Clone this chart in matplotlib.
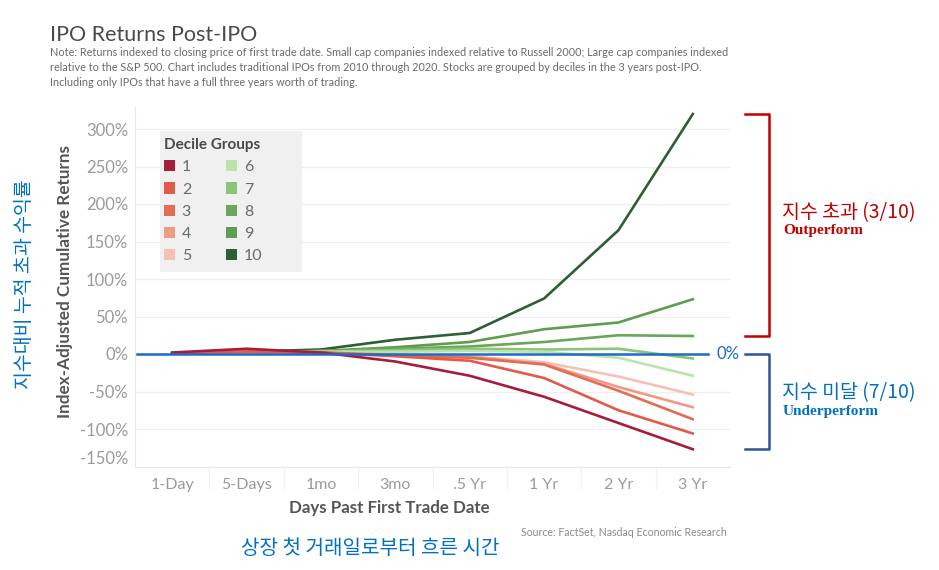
import matplotlib
matplotlib.use("Agg")
import matplotlib.pyplot as plt
from matplotlib.patches import Patch, Rectangle
from matplotlib.transforms import blended_transform_factory

# ---------------- data ----------------
periods = ['1-Day', '5-Days', '1mo', '3mo', '.5 Yr', '1 Yr', '2 Yr', '3 Yr']
decile_labels = ['1', '2', '3', '4', '5', '6', '7', '8', '9', '10']
d1 = [2, 7, 2, -10, -29, -57, -92, -127]
d2 = [1, 3, 2, -3, -9, -32, -75, -106]
d3 = [1, 3, 2, -2, -5, -14, -49, -87]
d4 = [1, 3, 2, -1, -4, -13, -44, -71]
d5 = [1, 2, 2, -1, -3, -11, -30, -54]
d6 = [1, 2, 3, 3, 4, 3, -5, -29]
d7 = [1, 2, 3, 5, 7, 6, 7, -6]
d8 = [1, 2, 4, 7, 10, 16, 25, 24]
d9 = [1, 2, 4, 9, 16, 33, 42, 73]
d10 = [1, 3, 6, 19, 28, 74, 165, 320]
series = [d1, d2, d3, d4, d5, d6, d7, d8, d9, d10]
colors = ['#a51d3a', '#e25a4a', '#e66b55', '#ef9a83', '#f6c1b5',
          '#bde2ac', '#8cc47a', '#6aa65b', '#5e9c52', '#2c5f34']
yticks = [-150, -100, -50, 0, 50, 100, 150, 200, 250, 300]

EN = ['Lato', 'DejaVu Sans']
KR = ['Noto Sans CJK KR', 'DejaVu Sans']

W, H = 939, 570
fig = plt.figure(figsize=(W / 100, H / 100), dpi=100)
ax = fig.add_axes([135 / W, 1 - 466.5 / H, 595 / W, 360 / H])

x = list(range(len(periods)))
for i in reversed(range(len(series))):
    ax.plot(x, series[i], color=colors[i], lw=1.9, solid_joinstyle='round', zorder=3 + (10 - i) * 0.01)

ax.set_xlim(-0.5, len(periods) - 0.5)
ax.set_ylim(-150, 330)
ax.set_yticks(yticks)
ax.set_yticklabels([f'{v}%' for v in yticks], family=EN, fontsize=12, color='#9a9a9a')
ax.set_xticks(x)
ax.set_xticklabels(periods, family=EN, fontsize=11.5, color='#9a9a9a')
ax.tick_params(axis='both', length=0)
ax.tick_params(axis='y', pad=5)
ax.tick_params(axis='x', pad=8)
for lab in ax.get_yticklabels():
    if lab.get_text() == '-150%':
        lab.set_va('bottom')
ax.grid(axis='y', color='#efefef', lw=0.9)
ax.set_axisbelow(True)
for s in ['top', 'right']:
    ax.spines[s].set_visible(False)
ax.spines['left'].set_color('#e8e8e8')
ax.spines['bottom'].set_color('#e8e8e8')

# faint column dividers in the header area
for xi in [i + 0.5 for i in x[:-1]]:
    ax.plot([xi, xi], [0, -0.06], transform=blended_transform_factory(ax.transData, ax.transAxes),
            color='#f0f0f0', lw=0.9, clip_on=False)

# zero line (blue)
bt = blended_transform_factory(fig.transFigure, ax.transData)
ax.plot([137 / W, 708 / W], [0, 0], transform=bt, color='#1c6cc6', lw=1.8, clip_on=False, zorder=10)
fig.text(728 / W, 0, '0%', transform=bt, color='#1c6cc6', fontsize=12, family=EN,
         ha='center', va='center')

finals = [s[-1] for s in series]
top_out = max(finals)
low_out = min(v for v in finals if v > 0)
low_under = min(finals)
# outperform bracket (red)
red = '#c00000'
ax.plot([745 / W, 769 / W, 769 / W, 745 / W], [top_out, top_out, low_out, low_out],
        transform=bt, color=red, lw=1.8, clip_on=False)
# underperform bracket (navy)
navy = '#2f5597'
ax.plot([745 / W, 769 / W, 769 / W, 745 / W], [0, 0, low_under, low_under],
        transform=bt, color=navy, lw=1.8, clip_on=False)

fig.text(782 / W, 1 - 213 / H, '지수 초과 (3/10)', color=red, fontsize=14, family=KR,
         ha='left', va='center')
fig.text(783 / W, 1 - 231 / H, 'Outperform', color=red, fontsize=11, family=['Liberation Serif'],
         fontweight='bold', ha='left', va='center')
fig.text(782 / W, 1 - 393 / H, '지수 미달 (7/10)', color='#0070c0', fontsize=14, family=KR,
         ha='left', va='center')
fig.text(783 / W, 1 - 412 / H, 'Underperform', color='#0070c0', fontsize=11,
         family=['Liberation Serif'], fontweight='bold', ha='left', va='center')

# legend background box
ax.add_patch(Rectangle((160 / W, 1 - 272 / H), 142 / W, 141 / H, transform=fig.transFigure,
                       facecolor='#f0f0f0', edgecolor='none', zorder=15, clip_on=False))
handles = [Patch(facecolor=c, edgecolor='none') for c in colors]
leg = ax.legend(handles, decile_labels, ncol=2, loc='upper left',
                bbox_to_anchor=(157 / W, 1 - 131 / H), bbox_transform=fig.transFigure,
                title='Decile Groups', alignment='left', frameon=False,
                prop={'family': EN, 'size': 11.5}, title_fontproperties={'family': EN, 'size': 11, 'weight': 'bold'},
                handlelength=0.7, handleheight=0.7, handletextpad=0.4, labelspacing=0.5,
                columnspacing=2.2, borderpad=0.45, borderaxespad=0)
leg.get_title().set_color('#4a4a4a')
for t in leg.get_texts():
    t.set_color('#6a6a6a')
leg.set_zorder(20)

# titles and labels
fig.text(50 / W, 1 - 35 / H, 'IPO Returns Post-IPO', fontsize=15.5, family=EN, color='#4a4a4a',
         ha='left', va='center')
note = ('Note: Returns indexed to closing price of first trade date. Small cap companies indexed relative to Russell 2000; Large cap companies indexed\n'
        'relative to the S&P 500. Chart includes traditional IPOs from 2010 through 2020. Stocks are grouped by deciles in the 3 years post-IPO.\n'
        'Including only IPOs that have a full three years worth of trading.')
fig.text(50 / W, 1 - 47 / H, note, fontsize=7.8, family=EN, color='#6a6a6a', ha='left', va='top',
         linespacing=1.45)
fig.text(65 / W, 1 - 281 / H, 'Index-Adjusted Cumulative Returns', rotation=90, fontsize=12.3,
         family=EN, fontweight='bold', color='#555555', ha='center', va='center')
fig.text(25 / W, 1 - 284 / H, '지수대비 누적 초과 수익률', rotation=90, fontsize=14,
         family=KR, color='#0070c0', ha='center', va='center')
fig.text(389 / W, 1 - 508 / H, 'Days Past First Trade Date', fontsize=12.2, family=EN,
         fontweight='bold', color='#555555', ha='center', va='center')
fig.text(727 / W, 1 - 532 / H, 'Source: FactSet, Nasdaq Economic Research', fontsize=7.6, family=EN,
         color='#8a8a8a', ha='right', va='center')
fig.text(370 / W, 1 - 548 / H, '상장 첫 거래일로부터 흐른 시간', fontsize=14.5, family=KR,
         color='#0070c0', ha='center', va='center')

fig.savefig('out.png', dpi=100, facecolor='white')
